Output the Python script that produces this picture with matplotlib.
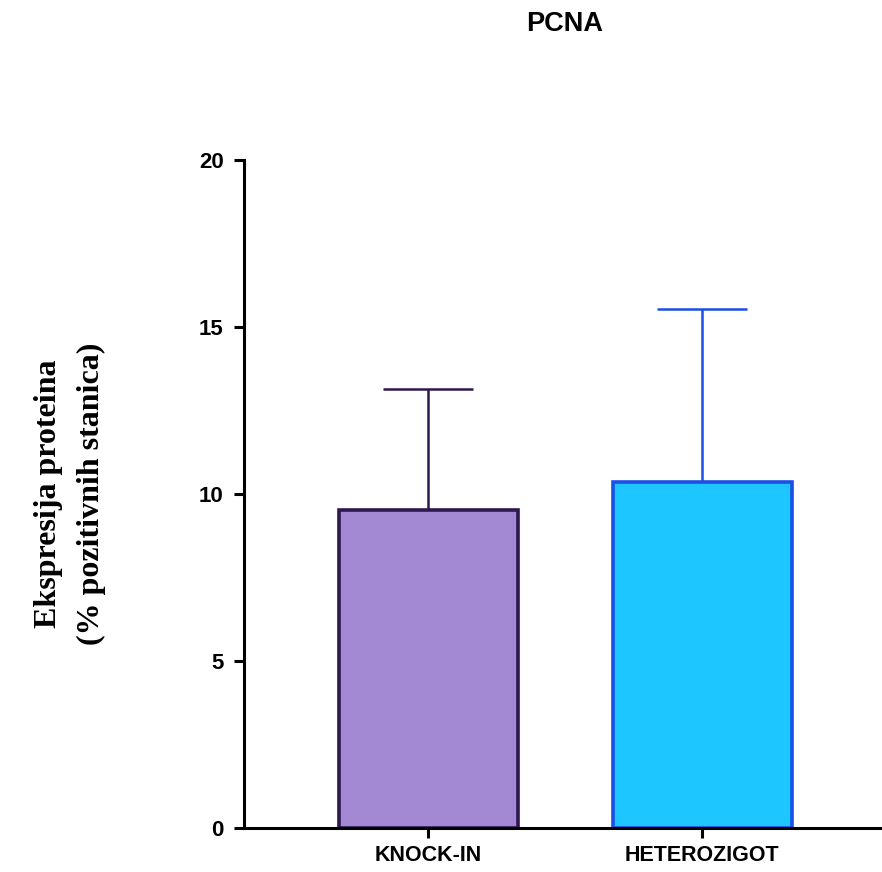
"""PCNA expression bar chart (mean + upper SD)."""
import matplotlib
matplotlib.use("Agg")
import matplotlib.pyplot as plt

groups = ["KNOCK-IN", "HETEROZIGOT"]
means = [9.52, 10.36]
sd_up = [3.62, 5.18]
fill_colors = ["#A389D4", "#1DC6FF"]
edge_colors = ["#2D1850", "#1A4FE8"]
y_ticks = [0, 5, 10, 15, 20]

plt.rcParams["font.family"] = ["Liberation Sans", "DejaVu Sans"]

fig = plt.figure(figsize=(8.82, 8.72), dpi=100)
ax = fig.add_axes([0.2766, 0.0505, 0.7224, 0.766])

x = list(range(len(groups)))
for xi, m, e, fc, ec in zip(x, means, sd_up, fill_colors, edge_colors):
    ax.errorbar(xi, m, yerr=[[0], [e]], fmt="none", ecolor=ec,
                elinewidth=1.8, capsize=32.5, capthick=1.8, zorder=1)
    ax.bar(xi, m, width=0.652, color=fc, edgecolor=ec, linewidth=2.6, zorder=2)

ax.set_xlim(-0.672, 1.652)
ax.set_ylim(0, 20)
ax.set_yticks(y_ticks)
ax.set_xticks(x)
ax.set_xticklabels(groups, fontsize=15.5, fontweight="bold")
ax.set_yticklabels([str(t) for t in y_ticks], fontsize=16, fontweight="bold")
ax.tick_params(axis="both", direction="out", length=7.5, width=2.2)
ax.tick_params(axis="y", pad=7)
ax.tick_params(axis="x", pad=5)

for side in ("top", "right"):
    ax.spines[side].set_visible(False)
for side in ("left", "bottom"):
    ax.spines[side].set_linewidth(2.2)

fig.text(565 / 882, 1 - 24 / 872, "PCNA", ha="center", va="center",
         fontsize=19.5, fontweight="bold")

fig.text(70 / 882, 1 - 494 / 872, "Ekspresija proteina\n(% pozitivnih stanica)",
         rotation=90, ha="center", va="center", fontsize=23,
         fontweight="bold", family=["Liberation Serif", "DejaVu Serif"],
         linespacing=1.6)

fig.savefig("out.png", dpi=100)
